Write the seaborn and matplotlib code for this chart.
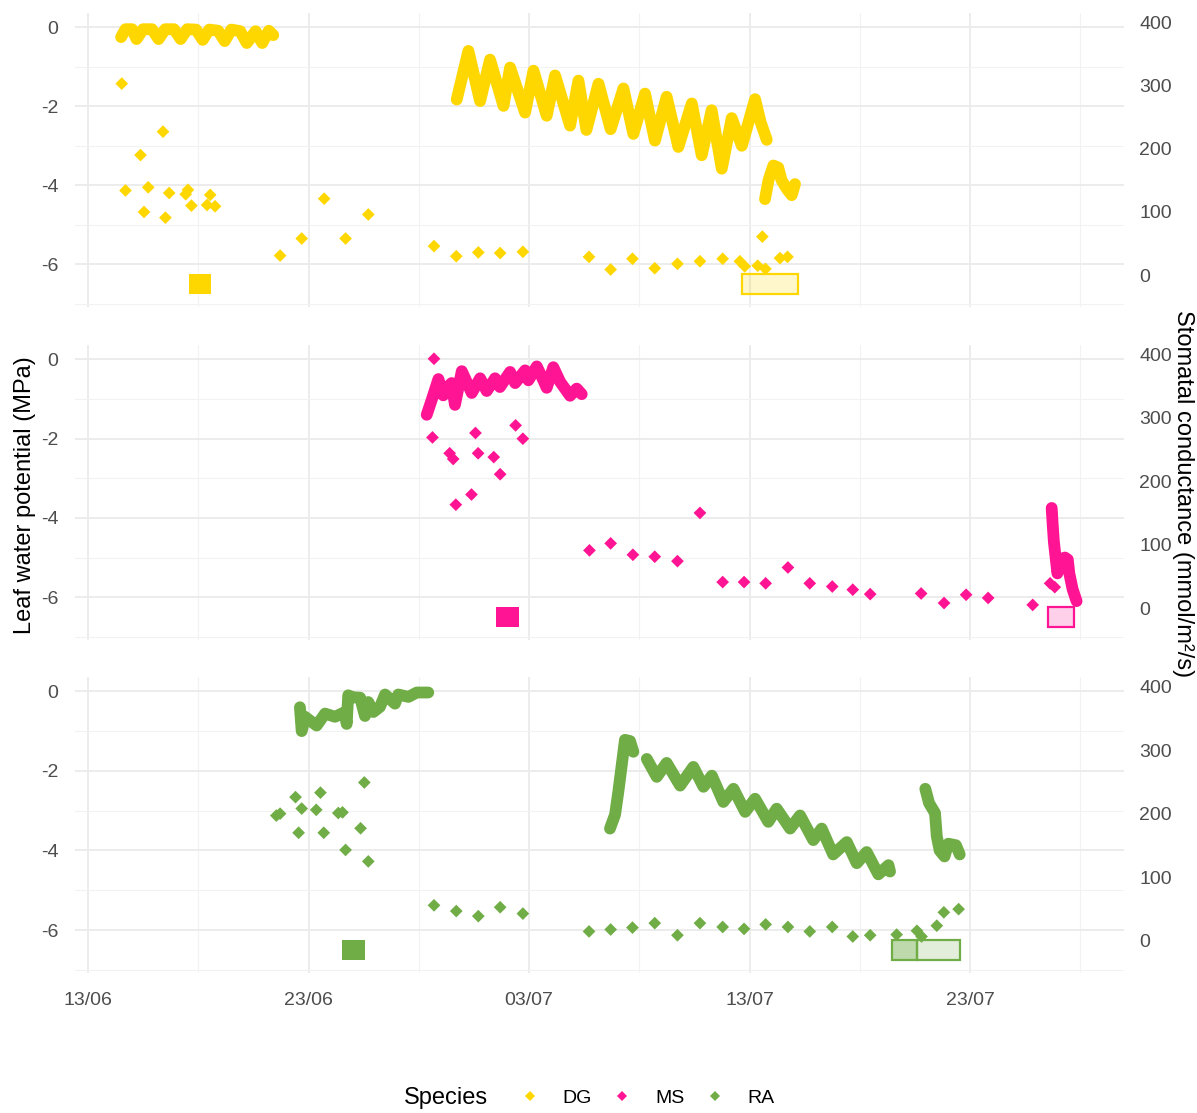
import pandas as pd
import matplotlib
matplotlib.use("Agg")
import matplotlib.pyplot as plt
import matplotlib.dates as mdates
from matplotlib.patches import Rectangle
from matplotlib.lines import Line2D
import seaborn as sns

sns.set_theme(style="white")
plt.rcParams["font.family"] = ["Liberation Sans", "DejaVu Sans"]
plt.rcParams["axes.unicode_minus"] = False

start = pd.Timestamp("2021-06-13")
species = ["DG", "MS", "RA"]
colors = {"DG": "#FFD700", "MS": "#FF1493", "RA": "#70AD47"}

# leaf water potential (MPa), x = days after 13/06, one pair of lists per logger run
dg_wp1_days = [1.5, 1.7, 2.0, 2.2, 2.5, 2.9, 3.2, 3.5, 3.9, 4.2, 4.5, 4.9, 5.2, 5.5, 5.9, 6.2, 6.5, 6.9, 7.2, 7.6, 7.9, 8.2, 8.4]
dg_wp1_vals = [-0.25, -0.05, -0.05, -0.3, -0.05, -0.05, -0.3, -0.05, -0.05, -0.3, -0.05, -0.06, -0.32, -0.06, -0.09, -0.35, -0.06, -0.1, -0.4, -0.1, -0.4, -0.09, -0.2]
dg_wp2_days = [16.72, 17.25, 17.78, 18.23, 18.84, 19.14, 19.82, 20.2, 20.8, 21.18, 21.86, 22.24, 22.6, 23.15, 23.7, 24.28,
               24.73, 25.26, 25.71, 26.24, 26.77, 27.38, 27.83, 28.28, 28.74, 29.19, 29.65, 30.25, 30.5, 30.78]
dg_wp2_vals = [-1.83, -0.6, -1.87, -0.82, -1.99, -1.02, -2.16, -1.1, -2.24, -1.22, -2.49, -1.35, -2.6, -1.43, -2.58, -1.55,
               -2.7, -1.68, -2.87, -1.76, -3.03, -1.93, -3.24, -2.1, -3.58, -2.3, -3.0, -1.82, -2.4, -2.85]
dg_wp3_days = [30.7, 30.86, 31.08, 31.3, 31.45, 31.7, 31.91, 32.06]
dg_wp3_vals = [-4.35, -3.87, -3.5, -3.55, -3.87, -4.1, -4.25, -3.97]

ms_wp1_days = [15.36, 15.6, 15.89, 16.11, 16.3, 16.49, 16.64, 16.95, 17.4, 17.78, 18.08, 18.46, 18.68, 19.14, 19.37, 19.82,
               19.97, 20.35, 20.65, 20.8, 21.1, 21.41, 21.86, 22.16, 22.39]
ms_wp1_vals = [-1.4, -1.0, -0.5, -0.91, -0.7, -0.6, -1.15, -0.3, -0.85, -0.48, -0.8, -0.48, -0.7, -0.32, -0.6, -0.28,
               -0.53, -0.18, -0.53, -0.72, -0.2, -0.57, -0.92, -0.74, -0.88]
ms_wp2_days = [43.7, 43.75, 43.8, 43.9, 43.96, 44.1, 44.3, 44.43, 44.5, 44.65, 44.83]
ms_wp2_vals = [-3.75, -4.2, -4.6, -5.1, -5.4, -5.05, -5.0, -5.05, -5.4, -5.8, -6.1]

ra_wp1_days = [9.61, 9.69, 9.84, 10.1, 10.37, 10.75, 11.2, 11.65, 11.73, 11.8, 12.0, 12.34, 12.56, 12.71, 12.94, 13.24,
               13.47, 13.92, 14.07, 14.53, 14.91, 15.43]
ra_wp1_vals = [-0.4, -1.0, -0.64, -0.75, -0.86, -0.56, -0.64, -0.52, -0.82, -0.1, -0.15, -0.16, -0.62, -0.27, -0.52, -0.39,
               -0.08, -0.31, -0.08, -0.14, -0.03, -0.03]
ra_wp2_days = [23.67, 23.9, 24.05, 24.28, 24.35, 24.58, 24.73]
ra_wp2_vals = [-3.45, -3.1, -2.52, -1.52, -1.22, -1.25, -1.52]
ra_wp3_days = [25.34, 25.79, 26.24, 26.85, 27.45, 27.91, 28.29, 28.81, 29.27, 29.8, 30.25, 30.85, 31.23, 31.84, 32.29, 32.89,
               33.27, 33.79, 34.41, 34.86, 35.31, 35.84, 36.3, 36.37]
ra_wp3_vals = [-1.7, -2.15, -1.8, -2.37, -1.9, -2.4, -2.12, -2.78, -2.45, -3.03, -2.7, -3.28, -2.95, -3.45, -3.12, -3.74,
               -3.45, -4.1, -3.79, -4.32, -4.04, -4.6, -4.37, -4.53]
ra_wp4_days = [37.97, 38.14, 38.41, 38.49, 38.62, 38.84, 39.01, 39.36, 39.53]
ra_wp4_vals = [-2.45, -2.81, -3.06, -3.64, -4.0, -4.15, -3.83, -3.87, -4.1]

# stomatal conductance (mmol/m2/s)
dg_gs_days = [1.53, 1.7, 2.38, 2.54, 2.73, 3.4, 3.51, 3.68, 4.43, 4.53, 4.69, 5.4, 5.54, 5.76, 8.71, 9.69, 10.71, 11.68, 12.71,
              15.69, 16.7, 17.7, 18.69, 19.72, 22.72, 23.7, 24.69, 25.7, 26.73, 27.75, 28.78, 29.56, 29.78, 30.37, 30.58,
              30.72, 31.38, 31.72]
dg_gs_vals = [303, 134, 190, 100, 139, 227, 91, 130, 128, 135, 110, 111, 127, 109, 31, 58, 121, 58, 96,
              46, 30, 36, 35, 37, 29, 9, 26, 11, 18, 22, 26, 22, 14, 15, 61, 10, 27, 29]
ms_gs_days = [15.69, 15.62, 16.4, 16.56, 16.68, 17.39, 17.57, 17.69, 18.4, 18.69, 19.39, 19.72, 22.74, 23.7, 24.71, 25.7,
              26.73, 27.75, 28.78, 29.75, 30.73, 31.74, 32.73, 33.75, 34.68, 35.47, 37.78, 38.82, 39.82, 40.82, 42.84,
              43.63, 43.84]
ms_gs_vals = [393, 269, 244, 235, 163, 179, 276, 244, 238, 211, 288, 267, 91, 102, 84, 81,
              74, 150, 41, 41, 39, 64, 39, 34, 29, 22, 23, 8, 21, 16, 5, 39, 33]
ra_gs_days = [8.54, 8.71, 9.41, 9.55, 9.69, 10.35, 10.54, 10.69, 11.35, 11.54, 11.68, 12.36, 12.53, 12.71, 15.69, 16.7,
              17.7, 18.69, 19.72, 22.72, 23.7, 24.69, 25.7, 26.73, 27.75, 28.78, 29.75, 30.73, 31.74, 32.73, 33.75,
              34.68, 35.47, 36.67, 37.59, 37.8, 38.49, 38.81, 39.48]
ra_gs_vals = [197, 200, 226, 170, 208, 206, 233, 170, 201, 202, 143, 177, 249, 125, 56, 47,
              39, 53, 43, 15, 18, 21, 28, 9, 28, 22, 19, 26, 22, 15, 22,
              7, 9, 10, 16, 7, 24, 45, 50]

# treatment periods drawn under the series (days after 13/06)
box_species = ["DG", "DG", "MS", "MS", "RA", "RA", "RA"]
box_start = [4.6, 29.66, 18.52, 43.53, 11.51, 36.44, 37.61]
box_end = [5.56, 32.2, 19.53, 44.71, 12.58, 37.61, 39.53]
box_alpha = [1.0, 0.2, 1.0, 0.2, 1.0, 0.45, 0.2]

wp_runs = {
    "DG": [(dg_wp1_days, dg_wp1_vals), (dg_wp2_days, dg_wp2_vals), (dg_wp3_days, dg_wp3_vals)],
    "MS": [(ms_wp1_days, ms_wp1_vals), (ms_wp2_days, ms_wp2_vals)],
    "RA": [(ra_wp1_days, ra_wp1_vals), (ra_wp2_days, ra_wp2_vals), (ra_wp3_days, ra_wp3_vals), (ra_wp4_days, ra_wp4_vals)],
}
gs_runs = {"DG": (dg_gs_days, dg_gs_vals), "MS": (ms_gs_days, ms_gs_vals), "RA": (ra_gs_days, ra_gs_vals)}


def to_date(days):
    return start + pd.to_timedelta(pd.Series(days, dtype=float), unit="D")


# left axis -> right axis alignment (gs = 0 at -6.275 MPa, 400 at 0.125 MPa)
wp_lim = (-7.08, 0.36)
gs_lim = tuple((v + 6.275) / 0.016 for v in wp_lim)
x_lim = (start + pd.Timedelta(days=-0.59), start + pd.Timedelta(days=46.98))
major_dates = [start + pd.Timedelta(days=d) for d in (0, 10, 20, 30, 40)]
minor_dates = [start + pd.Timedelta(days=d) for d in (5, 15, 25, 35, 45)]

W, H = 1197, 1113
fig = plt.figure(figsize=(W / 100, H / 100), dpi=100)
panel_px = [(13, 307), (345, 640), (677, 973)]
grey = "#4D4D4D"

for i, sp in enumerate(species):
    top, bot = panel_px[i]
    ax = fig.add_axes([75 / W, 1 - bot / H, (1124 - 75) / W, (bot - top) / H])
    col = colors[sp]

    frames = []
    for k, (d, v) in enumerate(wp_runs[sp]):
        frames.append(pd.DataFrame({"date": to_date(d), "wp": v, "run": k}))
    wp = pd.concat(frames, ignore_index=True)

    for s, a, b, al in zip(box_species, box_start, box_end, box_alpha):
        if s != sp:
            continue
        x0 = mdates.date2num(start + pd.Timedelta(days=a))
        x1 = mdates.date2num(start + pd.Timedelta(days=b))
        ax.add_patch(Rectangle((x0, -6.75), x1 - x0, 0.5, facecolor=col, alpha=al, lw=0, zorder=2))
        if al < 1:
            ax.add_patch(Rectangle((x0, -6.75), x1 - x0, 0.5, facecolor="none", edgecolor=col, lw=1.6, zorder=2))

    sns.lineplot(data=wp, x="date", y="wp", units="run", estimator=None, color=col, lw=8.5,
                 solid_capstyle="round", solid_joinstyle="round", ax=ax, zorder=3)

    ax.set_xlim(x_lim)
    ax.set_ylim(wp_lim)
    ax.set_yticks([0, -2, -4, -6])
    ax.set_yticks([-1, -3, -5, -7], minor=True)
    ax.set_xticks(major_dates)
    ax.set_xticks(minor_dates, minor=True)
    ax.xaxis.set_major_formatter(mdates.DateFormatter("%d/%m"))
    ax.grid(which="major", color="#EBEBEB", lw=1.3)
    ax.grid(which="minor", color="#F2F2F2", lw=0.8)
    ax.set_axisbelow(True)
    ax.tick_params(which="both", length=0, labelsize=14, labelcolor=grey)
    ax.tick_params(axis="y", pad=12)
    ax.tick_params(axis="x", pad=14)
    if i < 2:
        ax.tick_params(labelbottom=False)
    ax.set_xlabel("")
    ax.set_ylabel("")
    for sp_ in ax.spines.values():
        sp_.set_visible(False)

    ax2 = ax.twinx()
    gs = pd.DataFrame({"date": to_date(gs_runs[sp][0]), "gs": gs_runs[sp][1]})
    sns.scatterplot(data=gs, x="date", y="gs", marker="D", s=42, color=col, edgecolor="none", ax=ax2, zorder=4)
    ax2.set_ylim(gs_lim)
    ax2.set_yticks([0, 100, 200, 300, 400])
    ax2.tick_params(length=0, labelsize=14, labelcolor=grey, pad=11)
    ax2.grid(False)
    ax2.set_xlabel("")
    ax2.set_ylabel("")
    for sp_ in ax2.spines.values():
        sp_.set_visible(False)

fig.text(25 / W, 1 - 495 / H, "Leaf water potential (MPa)", rotation=90, ha="center", va="center",
         fontsize=17, color="black")
fig.text(1183 / W, 1 - 494 / H, "Stomatal conductance (mmol/m²/s)", rotation=270, ha="center", va="center",
         fontsize=17, color="black")

handles = [Line2D([], [], marker="D", ls="", color=colors[s], markersize=5.5, markeredgewidth=0) for s in species]
fig.text(404 / W, 1 - 1098 / H, "Species", ha="left", va="center", fontsize=17, color="black")
leg = fig.legend(handles, species, loc="center left", bbox_to_anchor=(520 / W, 1 - 1098 / H), ncol=3, frameon=False,
                 fontsize=14, handlelength=1.0, handletextpad=1.2, columnspacing=1.05, borderpad=0, borderaxespad=0)
for t in leg.get_texts():
    t.set_color("black")

fig.savefig("out.png", dpi=100)
